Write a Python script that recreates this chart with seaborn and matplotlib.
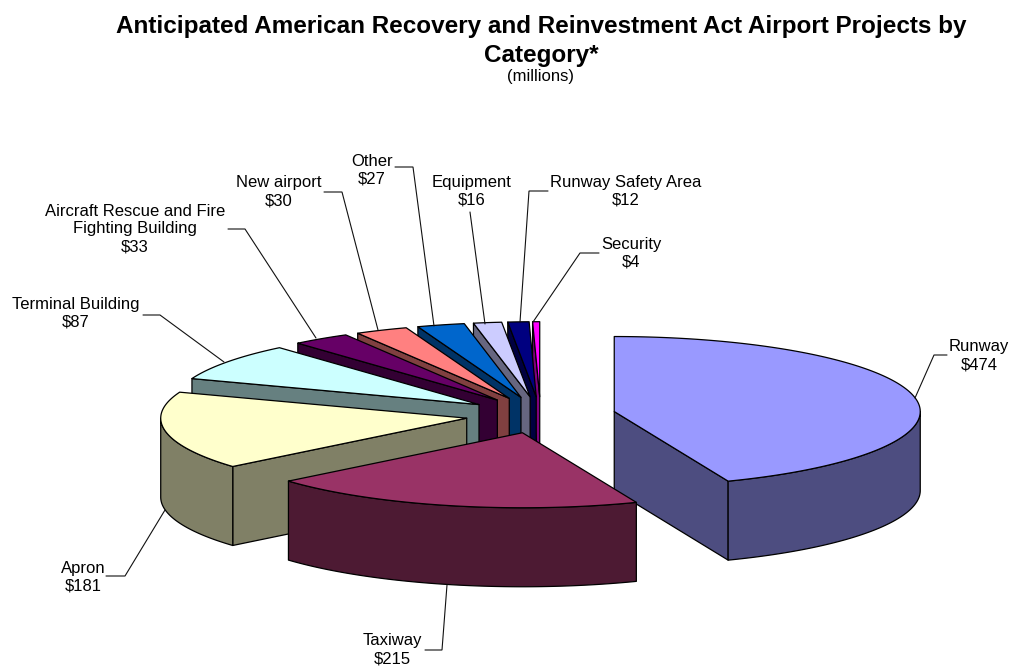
"""
Exploded 3D style pie of airport project spending, drawn in pixel coordinates.
"""

import matplotlib

matplotlib.use("Agg")
import matplotlib.pyplot as plt
import numpy as np
import pandas as pd
import seaborn as sns

categories = ["Runway", "Taxiway", "Apron", "Terminal Building",
              "Aircraft Rescue and Fire\nFighting Building", "New airport", "Other",
              "Equipment", "Runway Safety Area", "Security"]
amounts = [474, 215, 181, 87, 33, 30, 27, 16, 12, 4]
top_colors = ["#9999FF", "#993366", "#FFFFCC", "#CCFFFF", "#660066",
              "#FF8080", "#0066CC", "#CCCCFF", "#000080", "#FF00FF"]

# label centre and leader line, in pixels
label_xy = [(979, 356), (392, 650), (83, 577), (76, 313), (135, 229),
            (279, 192), (372, 170), (472, 191), (626, 191), (631, 253)]
leaders = [
    [(915, 398), (934, 355), (947, 355)],
    [(447, 585), (442, 650), (425, 650)],
    [(165, 510), (125, 576), (106, 576)],
    [(224, 362), (160, 315), (143, 315)],
    [(316, 338), (245, 229), (228, 229)],
    [(378, 330), (342, 192), (324, 192)],
    [(434, 326), (413, 167), (395, 167)],
    [(485, 324), (470, 212)],
    [(520, 322), (529, 191), (548, 191)],
    [(533, 322), (580, 253), (599, 253)],
]

CX, CY = 540.6, 415
EX, EY = 75, 18.3
RX, RY = 306, 75
DEPTH = 79
EDGE_LW = 0.9


def rim_points(ax0, ay0, start, end):
    t = np.radians(np.linspace(start, end, max(2, int(end - start) * 2)))
    return ax0 + RX * np.sin(t), ay0 - RY * np.cos(t)


def draw_slice(ax, row):
    # apex pushed out along the middle of the slice
    mid = np.radians((row["start"] + row["end"]) / 2)
    ax0 = CX + EX * np.sin(mid)
    ay0 = CY - EY * np.cos(mid)
    side = tuple(c * 0.5 for c in matplotlib.colors.to_rgb(row["color"]))
    style = dict(edgecolor="black", linewidth=EDGE_LW, joinstyle="round")

    for ang, show in [(row["start"], np.sin(np.radians(row["start"])) < -1e-6),
                      (row["end"], np.sin(np.radians(row["end"])) > 1e-6)]:
        if show:
            ex, ey = rim_points(ax0, ay0, ang, ang)
            ax.fill([ax0, ex[0], ex[0], ax0], [ay0, ey[0], ey[0] + DEPTH, ay0 + DEPTH],
                    facecolor=side, **style)

    lo, hi = max(row["start"], 90), min(row["end"], 270)
    if hi > lo:
        rx, ry = rim_points(ax0, ay0, lo, hi)
        ax.fill(np.r_[rx, rx[::-1]], np.r_[ry, ry[::-1] + DEPTH], facecolor=side, **style)

    tx, ty = rim_points(ax0, ay0, row["start"], row["end"])
    ax.fill(np.r_[ax0, tx], np.r_[ay0, ty], facecolor=row["color"], **style)


def main():
    sns.set_theme(style="white")
    plt.rcParams["font.family"] = ["Liberation Sans", "DejaVu Sans"]

    df = pd.DataFrame({"category": categories, "amount": amounts, "color": sns.color_palette(top_colors)})
    total = df["amount"].sum()
    df["end"] = df["amount"].cumsum() / total * 360
    df["start"] = df["end"].shift(fill_value=0)

    fig = plt.figure(figsize=(10.1, 6.67), dpi=100)
    ax = fig.add_axes([0, 0, 1, 1])

    # back slices first, the taxiway sits in front of the apron
    order = list(range(len(df) - 1, 1, -1)) + [0, 1]
    for i in order:
        draw_slice(ax, df.iloc[i])

    for i, row in df.iterrows():
        pts = np.array(leaders[i])
        ax.plot(pts[:, 0], pts[:, 1], color="#111111", lw=0.8, solid_joinstyle="miter")
        ax.text(label_xy[i][0], label_xy[i][1], f"{row['category']}\n${row['amount']}",
                ha="center", va="center", fontsize=12, color="black", linespacing=1.25)

    ax.text(541, 41, "Anticipated American Recovery and Reinvestment Act Airport Projects by\nCategory*",
            ha="center", va="center", fontsize=17.5, fontweight="bold", color="black", linespacing=1.3)
    ax.text(541, 77, "(millions)", ha="center", va="center", fontsize=12, color="black")

    ax.set_xlim(0, 1010)
    ax.set_ylim(667, 0)
    ax.axis("off")
    sns.despine(ax=ax, left=True, bottom=True)
    fig.savefig("out.png", dpi=100, facecolor="white")


if __name__ == "__main__":
    main()
